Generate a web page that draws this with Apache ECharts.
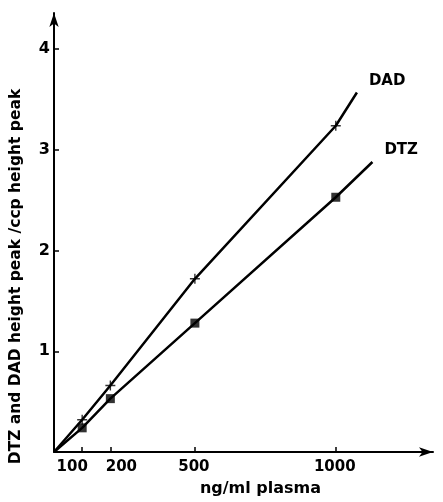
<!DOCTYPE html>
<html><head><meta charset="utf-8">
<script src="https://cdn.jsdelivr.net/npm/echarts@6/dist/echarts.min.js"></script>
<style>html,body{margin:0;padding:0;background:#fff}#c{width:443px;height:502px}</style>
</head><body><div id="c"></div>
<script>
// data
const concentrations = [100, 200, 500, 1000];
const dadValues = [0.32, 0.66, 1.72, 3.24];
const dtzValues = [0.24, 0.53, 1.28, 2.53];
// fitted curve points (origin, measured points, curve end)
const dadCurveX = [0, 100, 200, 500, 1000, 1075];
const dadCurveY = [0, 0.32, 0.66, 1.72, 3.24, 3.57];
const dtzCurveX = [0, 100, 200, 500, 1000, 1130];
const dtzCurveY = [0, 0.24, 0.53, 1.28, 2.53, 2.88];
const xTicks = [100, 200, 500, 1000];
const yTicks = [1, 2, 3, 4];
const seriesNames = ['DAD', 'DTZ'];

const pair = (xs, ys) => xs.map((x, i) => [x, ys[i]]);
const font = 'DejaVu Sans';
const chart = echarts.init(document.getElementById('c'), null, {renderer: 'canvas'});
const plus = 'path://M4.3,0H5.7V4.3H10V5.7H5.7V10H4.3V5.7H0V4.3H4.3Z';
const lblStyle = {color: '#000', fontSize: 15, fontFamily: font, fontWeight: 'bold'};
chart.setOption({
  animation: false,
  backgroundColor: '#fff',
  grid: {left: 53, right: 10, top: 13, bottom: 43},
  xAxis: {
    type: 'value', min: 0, max: 1345,
    splitLine: {show: false},
    axisLine: {lineStyle: {color: '#000', width: 2}, symbol: ['none', 'arrow'], symbolSize: [7, 14]},
    axisTick: {show: true, inside: true, length: 5, lineStyle: {color: '#000', width: 1.5}, customValues: xTicks},
    axisLabel: {
      customValues: xTicks, margin: 8, ...lblStyle,
      formatter: v => v === 100 ? '{l|100}' : v === 200 ? '{r|200}' : '{n|' + v + '}',
      rich: {
        l: {...lblStyle, padding: [0, 20, 0, 0]},
        r: {...lblStyle, padding: [0, 0, 0, 22]},
        n: {...lblStyle, padding: [0, 0, 0, -2]}
      }
    },
    name: 'ng/ml plasma', nameLocation: 'middle', nameGap: 29,
    nameTextStyle: {color: '#000', fontSize: 16, fontFamily: font, fontWeight: 'bold', padding: [0, 0, 0, 34]}
  },
  yAxis: {
    type: 'value', min: 0, max: 4.36,
    splitLine: {show: false},
    axisLine: {lineStyle: {color: '#000', width: 2}, symbol: ['none', 'arrow'], symbolSize: [7, 14]},
    axisTick: {show: true, inside: true, length: 5, lineStyle: {color: '#000', width: 1.5}, customValues: yTicks},
    axisLabel: {customValues: yTicks, margin: 4, ...lblStyle, fontSize: 16},
    name: 'DTZ and DAD height peak /ccp height peak', nameLocation: 'middle', nameGap: 30,
    nameTextStyle: {color: '#000', fontSize: 15.5, fontFamily: font, fontWeight: 'bold', padding: [0, 0, 0, -88]}
  },
  series: [
    {type: 'line', data: pair(dadCurveX, dadCurveY), smooth: false, showSymbol: false,
     lineStyle: {color: '#000', width: 2.5, join: 'round'},
     endLabel: {show: true, formatter: seriesNames[0], ...lblStyle, offset: [4, -11]}},
    {type: 'line', data: pair(dtzCurveX, dtzCurveY), smooth: false, showSymbol: false,
     lineStyle: {color: '#000', width: 2.5, join: 'round'},
     endLabel: {show: true, formatter: seriesNames[1], ...lblStyle, offset: [4, -12]}},
    {type: 'scatter', name: seriesNames[0], data: pair(concentrations, dadValues), symbol: plus, symbolSize: 10,
     itemStyle: {color: '#000'}, z: 5},
    {type: 'scatter', name: seriesNames[1], data: pair(concentrations, dtzValues), symbol: 'rect', symbolSize: 9,
     itemStyle: {color: '#000'}, z: 5}
  ]
});
</script></body></html>
